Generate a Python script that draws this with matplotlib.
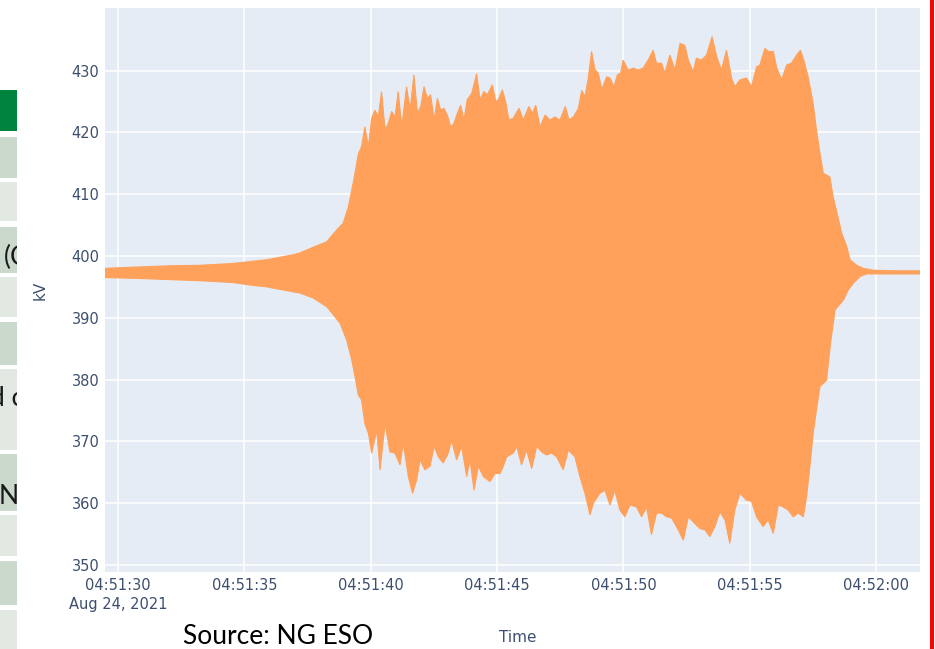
import numpy as np
import matplotlib.pyplot as plt
import matplotlib.dates as mdates
from matplotlib.patches import Rectangle

# time = seconds after 04:51:00 (24 Aug 2021), voltage in kV
upper_t = [29.49, 30.61, 31.93, 33.25, 34.57, 35.23, 35.89, 36.54, 36.93, 37.20,
           37.72, 38.26, 38.65, 38.91, 39.12, 39.33, 39.51, 39.64, 39.77, 39.91,
           40.04, 40.17, 40.30, 40.43, 40.57, 40.70, 40.83, 40.96, 41.09, 41.23,
           41.42, 41.56, 41.71, 41.85, 41.98, 42.11, 42.24, 42.37, 42.51, 42.64,
           42.77, 42.90, 43.03, 43.17, 43.30, 43.43, 43.56, 43.69, 43.82, 44.00,
           44.19, 44.33, 44.48, 44.62, 44.81, 44.95, 45.05, 45.21, 45.34, 45.47,
           45.64, 45.87, 46.04, 46.26, 46.40, 46.53, 46.70, 46.90, 47.10, 47.29,
           47.49, 47.70, 47.85, 48.02, 48.22, 48.35, 48.48, 48.61, 48.74, 48.88,
           49.01, 49.14, 49.34, 49.47, 49.63, 49.76, 49.89, 49.99, 50.19, 50.39,
           50.59, 50.78, 50.98, 51.18, 51.31, 51.51, 51.64, 51.84, 52.04, 52.24,
           52.43, 52.57, 52.76, 52.89, 53.09, 53.29, 53.51, 53.69, 53.88, 54.08,
           54.28, 54.41, 54.61, 54.87, 55.07, 55.27, 55.40, 55.60, 55.73, 55.93,
           56.06, 56.26, 56.46, 56.65, 56.85, 57.01, 57.14, 57.31, 57.51, 57.64,
           57.78, 57.91, 58.17, 58.30, 58.45, 58.64, 58.84, 58.97, 59.23, 59.50,
           59.89, 60.82, 61.74]
upper_kv = [398.0, 398.2, 398.4, 398.5, 398.8, 399.1, 399.4, 399.9, 400.2, 400.5,
            401.4, 402.3, 404.2, 405.3, 408.0, 412.3, 416.5, 417.7, 420.9, 417.7,
            422.3, 423.6, 422.5, 426.6, 420.4, 421.5, 423.4, 422.5, 426.6, 420.9,
            427.4, 423.6, 429.3, 423.1, 424.2, 427.4, 425.5, 426.1, 422.0, 425.5,
            423.6, 423.9, 422.8, 420.9, 421.5, 423.1, 424.4, 422.0, 425.3, 426.3,
            429.5, 425.3, 426.6, 426.1, 427.7, 425.0, 425.3, 426.9, 425.0, 422.0,
            422.3, 423.9, 422.0, 424.2, 423.1, 424.4, 420.9, 422.8, 422.0, 422.5,
            422.0, 424.2, 422.0, 422.5, 423.9, 426.8, 425.8, 428.8, 433.1, 430.1,
            429.6, 426.9, 429.0, 428.8, 427.4, 429.3, 429.6, 431.7, 430.1, 430.4,
            430.1, 430.4, 431.7, 433.3, 431.2, 431.2, 429.6, 432.5, 430.1, 434.4,
            434.1, 431.7, 429.8, 432.0, 431.7, 432.5, 435.5, 432.3, 430.1, 433.3,
            428.8, 427.4, 428.5, 428.8, 427.4, 430.6, 430.9, 433.6, 433.1, 433.1,
            430.6, 428.5, 430.9, 431.2, 432.5, 433.3, 431.7, 429.0, 424.7, 420.4,
            416.6, 413.4, 412.8, 409.6, 407.0, 403.7, 401.5, 399.4, 398.5, 398.0,
            397.7, 397.6, 397.6]

lower_t = [29.49, 30.61, 31.93, 33.25, 34.57, 35.23, 35.89, 36.54, 37.20, 37.73,
           38.26, 38.52, 38.79, 39.05, 39.25, 39.38, 39.51, 39.64, 39.77, 39.91,
           40.04, 40.24, 40.37, 40.57, 40.76, 40.96, 41.16, 41.29, 41.49, 41.66,
           41.82, 41.95, 42.15, 42.35, 42.51, 42.68, 42.87, 43.07, 43.20, 43.40,
           43.60, 43.80, 43.93, 44.09, 44.26, 44.46, 44.72, 44.92, 45.12, 45.25,
           45.38, 45.64, 45.78, 45.97, 46.17, 46.37, 46.57, 46.77, 46.96, 47.16,
           47.36, 47.62, 47.82, 48.08, 48.28, 48.48, 48.68, 48.81, 49.07, 49.27,
           49.47, 49.66, 49.86, 50.06, 50.26, 50.52, 50.72, 50.92, 51.11, 51.31,
           51.51, 51.71, 51.91, 52.17, 52.37, 52.57, 52.83, 53.03, 53.22, 53.42,
           53.62, 53.82, 54.02, 54.21, 54.41, 54.61, 54.87, 55.07, 55.27, 55.53,
           55.73, 55.93, 56.13, 56.32, 56.52, 56.72, 56.92, 57.12, 57.25, 57.38,
           57.51, 57.64, 57.78, 58.04, 58.20, 58.38, 58.71, 58.90, 59.10, 59.37,
           59.63, 60.16, 61.74]
lower_kv = [396.5, 396.4, 396.2, 396.0, 395.7, 395.3, 395.0, 394.5, 394.0, 393.2,
            391.8, 390.5, 389.1, 386.4, 383.2, 380.5, 377.5, 376.7, 372.9, 371.3,
            368.1, 371.8, 365.4, 372.9, 368.3, 368.1, 366.2, 369.7, 364.3, 361.6,
            363.8, 367.0, 365.4, 366.0, 369.2, 367.5, 366.5, 368.1, 370.2, 367.0,
            369.2, 364.3, 367.0, 362.1, 366.0, 364.3, 363.5, 364.8, 364.8, 366.0,
            367.5, 368.1, 369.2, 366.2, 368.6, 365.6, 369.2, 368.3, 367.8, 368.1,
            367.5, 365.4, 368.6, 367.5, 364.3, 361.6, 358.1, 360.0, 361.6, 362.1,
            359.7, 362.1, 358.9, 357.8, 359.7, 359.4, 357.8, 359.4, 354.9, 358.4,
            358.4, 357.8, 357.6, 355.7, 354.0, 357.8, 356.7, 355.9, 355.7, 354.6,
            356.2, 358.6, 357.3, 353.5, 358.9, 361.6, 360.5, 360.3, 357.8, 356.2,
            357.3, 355.1, 359.7, 359.4, 358.9, 357.8, 358.4, 357.8, 361.1, 365.9,
            371.3, 375.1, 378.9, 379.9, 386.0, 391.3, 392.9, 394.5, 395.6, 396.7,
            397.1, 397.1, 397.1]

tick_secs = [30, 35, 40, 45, 50, 55, 60]
tick_labels = ['04:51:30\nAug 24, 2021', '04:51:35', '04:51:40', '04:51:45',
               '04:51:50', '04:51:55', '04:52:00']
y_ticks = [350, 360, 370, 380, 390, 400, 410, 420, 430]

base = np.datetime64('2021-08-24T04:51:00')


def to_num(secs):
    ms = np.round(np.asarray(secs, dtype=float) * 1000).astype('timedelta64[ms]')
    return mdates.date2num(base + ms)


W, H = 935, 649
fig = plt.figure(figsize=(W / 100, H / 100), dpi=100)
fig.patch.set_facecolor('white')

# slide table fragment on the far left
tab = fig.add_axes([0, 0, 17 / W, 1])
tab.set_xlim(0, 17)
tab.set_ylim(H, 0)
tab.axis('off')
rows = [(90, 131, '#00843d'), (137, 178, '#cbd8cc'), (182, 221, '#e2e9e3'),
        (227, 273, '#cbd8cc'), (277, 317, '#e2e9e3'), (322, 365, '#cbd8cc'),
        (369, 450, '#e2e9e3'), (454, 511, '#cbd8cc'), (515, 556, '#e2e9e3'),
        (561, 605, '#cbd8cc'), (610, 649, '#e2e9e3')]
for y0, y1, c in rows:
    tab.add_patch(Rectangle((0, y0), 17, y1 - y0, color=c, lw=0))
for x, y, s in [(3.5, 257, '(C'), (-10, 398, 'd c'), (-1, 497, 'N')]:
    tab.text(x, y, s, fontsize=19, family='Lato', color='#1a1a1a',
             ha='left', va='center', clip_on=True)

# red frame line on the right
fig.patches.append(Rectangle((930 / W, 0), 4 / W, 1, transform=fig.transFigure,
                             color='#ff0000', lw=0))

ax = fig.add_axes([105 / W, 77 / H, 815 / W, 564 / H])
ax.set_facecolor('#E5ECF6')
xs = np.concatenate([to_num(upper_t), to_num(lower_t)[::-1]])
ys = np.concatenate([upper_kv, lower_kv[::-1]])
ax.fill(xs, ys, color='#FFA15A', lw=0.8, zorder=3)

ax.set_xlim(to_num([29.486, 61.737]))
ax.set_ylim(348.87, 440.13)
ax.set_xticks(to_num(tick_secs), tick_labels)
ax.set_yticks(y_ticks)
ax.grid(color='white', lw=1.1)
ax.set_axisbelow(True)
for sp in ax.spines.values():
    sp.set_visible(False)
ax.tick_params(length=0, labelsize=10.5, colors='#3d4f6e')
ax.tick_params(axis='y', pad=4)
ax.tick_params(axis='x', pad=4)
for lab in ax.get_xticklabels() + ax.get_yticklabels():
    lab.set_family('DejaVu Sans')
    lab.set_linespacing(1.35)

fig.text(40 / W, 1 - 290 / H, 'kV', rotation=90, ha='center', va='center',
         fontsize=11, color='#3d4f6e', family='DejaVu Sans')
fig.text(518 / W, 1 - 637 / H, 'Time', ha='center', va='center',
         fontsize=11, color='#3d4f6e', family='DejaVu Sans')
fig.text(183 / W, 1 - 636 / H, 'Source: NG ESO', ha='left', va='center',
         fontsize=19, color='black', family='Lato')

fig.savefig('out.png', dpi=100)
